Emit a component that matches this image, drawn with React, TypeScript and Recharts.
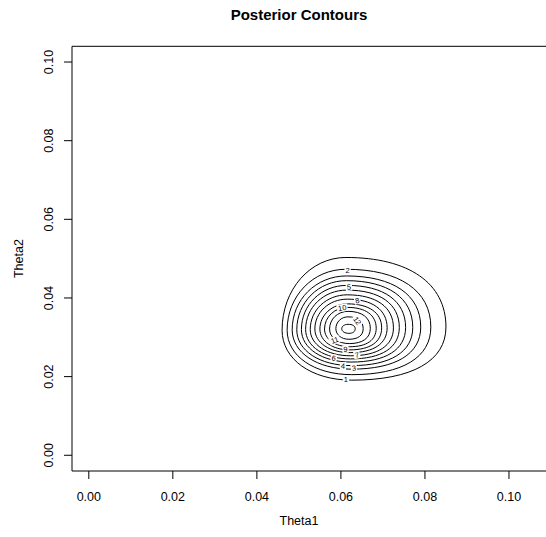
import React from 'react';
import { ComposedChart, Line, Scatter, XAxis, YAxis, ReferenceLine } from 'recharts';

const FONT = '"Liberation Sans", Arial, Helvetica, sans-serif';

// contour levels and the extreme points of each closed contour (left, top, right, bottom)
const levels = [1, 2, 3, 4, 5, 6, 7, 8, 9, 10, 11, 12, 13];
const leftX = [0.0460, 0.0472, 0.0484, 0.0495, 0.0506, 0.0516, 0.0527, 0.0538, 0.0550, 0.0561, 0.0573, 0.0588, 0.0602];
const leftY = [0.0318, 0.0318, 0.0319, 0.0319, 0.0320, 0.0320, 0.0320, 0.0321, 0.0321, 0.0321, 0.0321, 0.0322, 0.0322];
const topX = [0.0612, 0.0612, 0.0613, 0.0613, 0.0614, 0.0614, 0.0615, 0.0615, 0.0616, 0.0616, 0.0617, 0.0617, 0.0617];
const topY = [0.0503, 0.0473, 0.0456, 0.0444, 0.0432, 0.0420, 0.0408, 0.0397, 0.0385, 0.0376, 0.0366, 0.0352, 0.0333];
const rightX = [0.0850, 0.0814, 0.0790, 0.0771, 0.0754, 0.0739, 0.0725, 0.0710, 0.0697, 0.0684, 0.0670, 0.0653, 0.0634];
const rightY = [0.0326, 0.0326, 0.0326, 0.0325, 0.0325, 0.0325, 0.0324, 0.0324, 0.0324, 0.0323, 0.0323, 0.0322, 0.0322];
const bottomX = [0.0626, 0.0626, 0.0625, 0.0625, 0.0624, 0.0623, 0.0623, 0.0622, 0.0621, 0.0621, 0.0620, 0.0619, 0.0619];
const bottomY = [0.0191, 0.0205, 0.0219, 0.0228, 0.0237, 0.0245, 0.0253, 0.0261, 0.0268, 0.0276, 0.0284, 0.0295, 0.0310];

// in-line contour labels
const labelLevels = [1, 2, 3, 4, 5, 6, 7, 8, 9, 10, 11, 12];
const labelX = [0.0612, 0.0616, 0.0631, 0.0605, 0.0619, 0.0583, 0.0638, 0.0639, 0.0611, 0.0603, 0.0585, 0.0639];
const labelY = [0.0192, 0.0471, 0.0222, 0.0227, 0.0428, 0.0247, 0.0255, 0.0394, 0.0270, 0.0375, 0.0293, 0.0342];
const labelAngle = [0, 0, -8, 3, -3, 8, -12, -12, -3, -10, -20, 55];

const xTicks = [0, 0.02, 0.04, 0.06, 0.08, 0.1];
const yTicks = [0, 0.02, 0.04, 0.06, 0.08, 0.1];

const contours = levels.map((level, i) => ({
  level,
  points: [
    { x: leftX[i], y: leftY[i] },
    { x: topX[i], y: topY[i] },
    { x: rightX[i], y: rightY[i] },
    { x: bottomX[i], y: bottomY[i] },
  ],
}));

const labels = labelLevels.map((level, i) => ({ level, x: labelX[i], y: labelY[i], angle: labelAngle[i] }));

// closed curve through the extreme points: quarter arcs, vertical tangent at
// left/right points and horizontal tangent at top/bottom points
const KAPPA = [0.56, 0.63, 0.64, 0.58];
const quarterArcs = (context: any) => {
  let pts: number[][] = [];
  return {
    areaStart() {},
    areaEnd() {},
    lineStart() {
      pts = [];
    },
    point(x: number, y: number) {
      pts.push([+x, +y]);
    },
    lineEnd() {
      const n = pts.length;
      if (!n) return;
      context.moveTo(pts[0][0], pts[0][1]);
      for (let i = 0; i < n; i++) {
        const a = pts[i];
        const b = pts[(i + 1) % n];
        const k = KAPPA[i % 4];
        if (i % 2 === 0) {
          context.bezierCurveTo(a[0], a[1] + k * (b[1] - a[1]), b[0] + k * (a[0] - b[0]), b[1], b[0], b[1]);
        } else {
          context.bezierCurveTo(a[0] + k * (b[0] - a[0]), a[1], b[0], b[1] + k * (a[1] - b[1]), b[0], b[1]);
        }
      }
      context.closePath();
    },
  };
};

const ContourLabel = (props: any) => {
  const { cx, cy, payload } = props;
  if (cx == null || cy == null) return null;
  const txt = String(payload.level);
  const w = txt.length * 4.3 + 2;
  return (
    <g transform={`translate(${cx},${cy}) rotate(${payload.angle})`}>
      <rect x={-w / 2} y={-3.8} width={w} height={7.6} fill="#fff" />
      <text x={0} y={2.7} textAnchor="middle" fontSize={7.5} fontFamily={FONT} fill="#000">
        {txt}
      </text>
    </g>
  );
};

const XTick = (props: any) => {
  const { x, payload } = props;
  return (
    <text x={x} y={501} textAnchor="middle" fontSize={12.5} fontFamily={FONT} fill="#000">
      {payload.value.toFixed(2)}
    </text>
  );
};

const YTick = (props: any) => {
  const { y, payload } = props;
  return (
    <text x={53} y={y} transform={`rotate(-90, 53, ${y})`} textAnchor="middle" fontSize={12.5} fontFamily={FONT} fill="#000">
      {payload.value.toFixed(2)}
    </text>
  );
};

export default function App() {
  return (
    <div style={{ position: 'absolute', left: 0, top: 0, width: 546, height: 537, overflow: 'hidden', background: '#fff' }}>
      <ComposedChart width={570} height={537} margin={{ top: 46.3, right: 10.6, bottom: 0, left: 0 }}>
        <XAxis
          type="number"
          dataKey="x"
          domain={[-0.004, 0.112]}
          ticks={xTicks}
          height={66}
          tickSize={8}
          tick={<XTick />}
          axisLine={{ stroke: '#000' }}
          tickLine={{ stroke: '#000' }}
          allowDataOverflow
        />
        <YAxis
          type="number"
          dataKey="y"
          domain={[-0.004, 0.104]}
          ticks={yTicks}
          width={72}
          tickSize={8}
          tick={<YTick />}
          axisLine={{ stroke: '#000' }}
          tickLine={{ stroke: '#000' }}
          allowDataOverflow
        />
        <ReferenceLine y={0.104} stroke="#000" />
        {contours.map((c) => (
          <Line
            key={c.level}
            data={c.points}
            dataKey="y"
            type={quarterArcs as any}
            stroke="#000"
            strokeWidth={1}
            dot={false}
            activeDot={false}
            isAnimationActive={false}
          />
        ))}
        <Scatter data={labels} dataKey="y" shape={<ContourLabel />} isAnimationActive={false} />
      </ComposedChart>
      <svg width={546} height={537} style={{ position: 'absolute', left: 0, top: 0, pointerEvents: 'none' }}>
        <text x={299} y={20} textAnchor="middle" fontSize={15} fontWeight="bold" fontFamily={FONT} fill="#000">
          Posterior Contours
        </text>
        <text x={299} y={524.5} textAnchor="middle" fontSize={12.5} fontFamily={FONT} fill="#000">
          Theta1
        </text>
        <text x={23} y={258.6} transform="rotate(-90, 23, 258.6)" textAnchor="middle" fontSize={12.5} fontFamily={FONT} fill="#000">
          Theta2
        </text>
      </svg>
    </div>
  );
}
